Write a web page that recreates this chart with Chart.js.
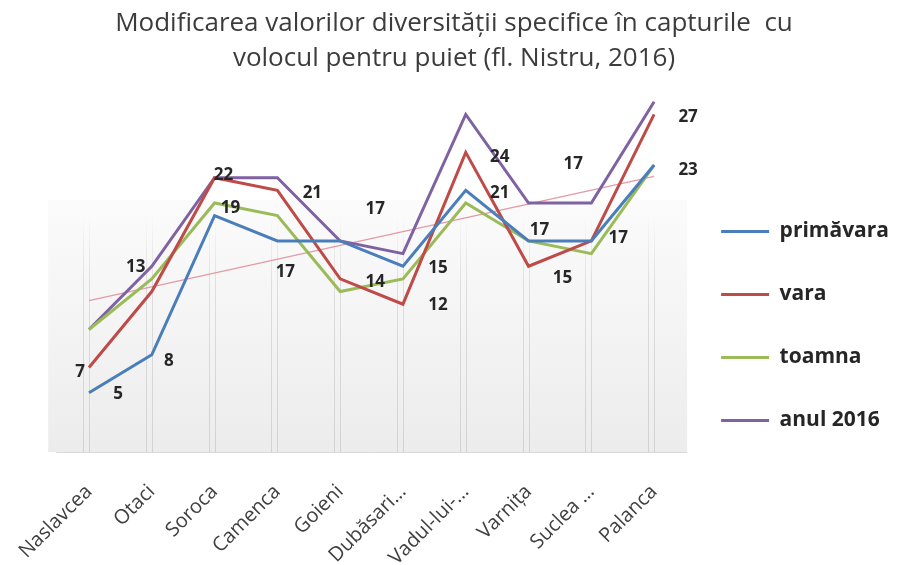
<!DOCTYPE html>
<html>
<head>
<meta charset="utf-8">
<script src="https://cdn.jsdelivr.net/npm/chart.js@4.4.1/dist/chart.umd.min.js"></script>
<style>
  html, body { margin: 0; padding: 0; background: #ffffff; }
  canvas { display: block; }
</style>
</head>
<body>
<canvas id="chart" width="899" height="565"></canvas>
<script>
// Sampling stations along the Dniester
const categories = ['Naslavcea', 'Otaci', 'Soroca', 'Camenca', 'Goieni', 'Dubăsari…', 'Vadul-lui-…', 'Varnița', 'Suclea …', 'Palanca'];

// Species diversity per season
const primavara = [5, 8, 19, 17, 17, 15, 21, 17, 17, 23];
const vara      = [7, 13, 22, 21, 14, 12, 24, 15, 17, 27];
const toamna    = [10, 14, 20, 19, 13, 14, 20, 17, 16, 23];
const anul2016  = [10, 15, 22, 22, 17, 16, 27, 20, 20, 28];

const seriesNames = ['primăvara', 'vara', 'toamna', 'anul 2016'];
const titleLines = ['Modificarea valorilor diversității specifice în capturile  cu', 'volocul pentru puiet (fl. Nistru, 2016)'];

// Styling
const seriesColors = ['#4a7ebb', '#be4b48', '#9bbb59', '#7e62a1'];
const trendColor = '#e39aa6';

// Value-label placement relative to each point (dx, dy in px)
const labelShift = {
  0: [[29, 1], [17, 6], [16, -7], [8, 31], [35, -32], [35, 2], [34, 3], [11, -11], [27, -3], [34, 5]],
  1: [[-9, 5], [-16, -24], [9, -3], [35, 3], [35, 3], [35, 1], [34, 5], [34, 12], [-18, -77], [34, 3]]
};

// Least-squares linear trend of the summer series
function linearTrend(values) {
  const n = values.length;
  const mx = (n - 1) / 2;
  const my = values.reduce((a, b) => a + b, 0) / n;
  let sxy = 0, sxx = 0;
  values.forEach((v, i) => { sxy += (i - mx) * (v - my); sxx += (i - mx) * (i - mx); });
  const slope = sxy / sxx;
  return [0, n - 1].map(i => ({ x: i, y: my + slope * (i - mx) }));
}

const toPoints = arr => arr.map((v, i) => ({ x: i, y: v }));
const seriesData = [primavara, vara, toamna, anul2016];

const datasets = seriesData.map((arr, k) => ({
  label: seriesNames[k],
  data: toPoints(arr),
  borderColor: seriesColors[k],
  backgroundColor: seriesColors[k],
  borderWidth: 3,
  pointRadius: 0,
  pointHoverRadius: 0,
  tension: 0
}));
datasets.push({
  label: 'trend vara',
  data: linearTrend(vara),
  borderColor: trendColor,
  backgroundColor: trendColor,
  borderWidth: 1.3,
  pointRadius: 0,
  tension: 0
});

// Shaded back wall, floor edge and category drop lines
const backdrop = {
  id: 'backdrop',
  beforeDatasetsDraw(chart) {
    const { ctx, chartArea: a, scales: { x } } = chart;
    const top = 200, floor = a.bottom - 4;
    const wallLeft = x.getPixelForValue(-0.65);
    const wallRight = a.right + 8;
    ctx.save();
    const g = ctx.createLinearGradient(0, top, 0, floor);
    g.addColorStop(0, '#fbfbfb');
    g.addColorStop(0.5, '#f4f4f4');
    g.addColorStop(1, '#ececec');
    ctx.fillStyle = g;
    ctx.fillRect(wallLeft, top, wallRight - wallLeft, floor - top);
    const lg = ctx.createLinearGradient(0, 215, 0, floor);
    lg.addColorStop(0, 'rgba(215,215,215,0)');
    lg.addColorStop(0.3, 'rgba(215,215,215,0.8)');
    lg.addColorStop(1, 'rgba(210,210,210,1)');
    ctx.strokeStyle = lg;
    ctx.lineWidth = 1;
    categories.forEach((_, i) => {
      const px = Math.round(x.getPixelForValue(i)) + 0.5;
      [px, px - 6].forEach(xx => {
        ctx.beginPath();
        ctx.moveTo(xx, 215);
        ctx.lineTo(xx, floor);
        ctx.stroke();
      });
    });
    ctx.strokeStyle = '#d9d9d9';
    ctx.beginPath();
    ctx.moveTo(wallLeft + 8, floor + 0.5);
    ctx.lineTo(wallRight, floor + 0.5);
    ctx.stroke();
    ctx.restore();
  }
};

// Value labels for the spring and summer series
const valueLabels = {
  id: 'valueLabels',
  afterDatasetsDraw(chart) {
    const { ctx } = chart;
    ctx.save();
    ctx.font = 'bold 17px "Open Sans"';
    ctx.fillStyle = '#262626';
    ctx.textAlign = 'center';
    ctx.textBaseline = 'middle';
    Object.keys(labelShift).forEach(k => {
      const meta = chart.getDatasetMeta(+k);
      const values = seriesData[+k];
      meta.data.forEach((pt, i) => {
        const [dx, dy] = labelShift[k][i];
        ctx.fillText(String(values[i]), pt.x + dx, pt.y + dy);
      });
    });
    ctx.restore();
  }
};

new Chart(document.getElementById('chart'), {
  type: 'line',
  data: { datasets },
  plugins: [backdrop, valueLabels],
  options: {
    responsive: false,
    animation: false,
    devicePixelRatio: 1,
    layout: { padding: { left: 9, right: 0, top: 0, bottom: 0 } },
    plugins: {
      title: {
        display: true,
        text: titleLines,
        color: '#3c3c3c',
        font: { family: '"Open Sans"', size: 26, weight: 'normal', lineHeight: 1.346 },
        padding: { top: 6, bottom: 0.5 }
      },
      legend: {
        position: 'right',
        align: 'start',
        title: { display: true, text: '', font: { size: 1, lineHeight: 1 }, padding: { top: 178, bottom: 0 } },
        labels: {
          boxWidth: 48,
          boxHeight: 3,
          padding: 42,
          color: '#262626',
          font: { family: '"Open Sans"', size: 21, weight: 'bold' },
          filter: item => item.datasetIndex < seriesNames.length,
          generateLabels: chart => Chart.defaults.plugins.legend.labels.generateLabels(chart)
            .map(item => Object.assign(item, { lineWidth: 0 }))
        }
      },
      tooltip: { enabled: false }
    },
    scales: {
      x: {
        type: 'linear',
        min: -1.274,
        max: 9.398,
        grid: { display: false },
        border: { display: false },
        afterBuildTicks: scale => { scale.ticks = categories.map((_, i) => ({ value: i })); },
        afterFit: scale => { scale.height = 109; },
        ticks: {
          autoSkip: false,
          minRotation: 45,
          maxRotation: 45,
          padding: 16,
          color: '#404040',
          font: { family: '"Open Sans"', size: 20 },
          callback: value => categories[value]
        }
      },
      y: {
        display: false,
        min: 0,
        max: 30
      }
    }
  }
});
</script>
</body>
</html>
